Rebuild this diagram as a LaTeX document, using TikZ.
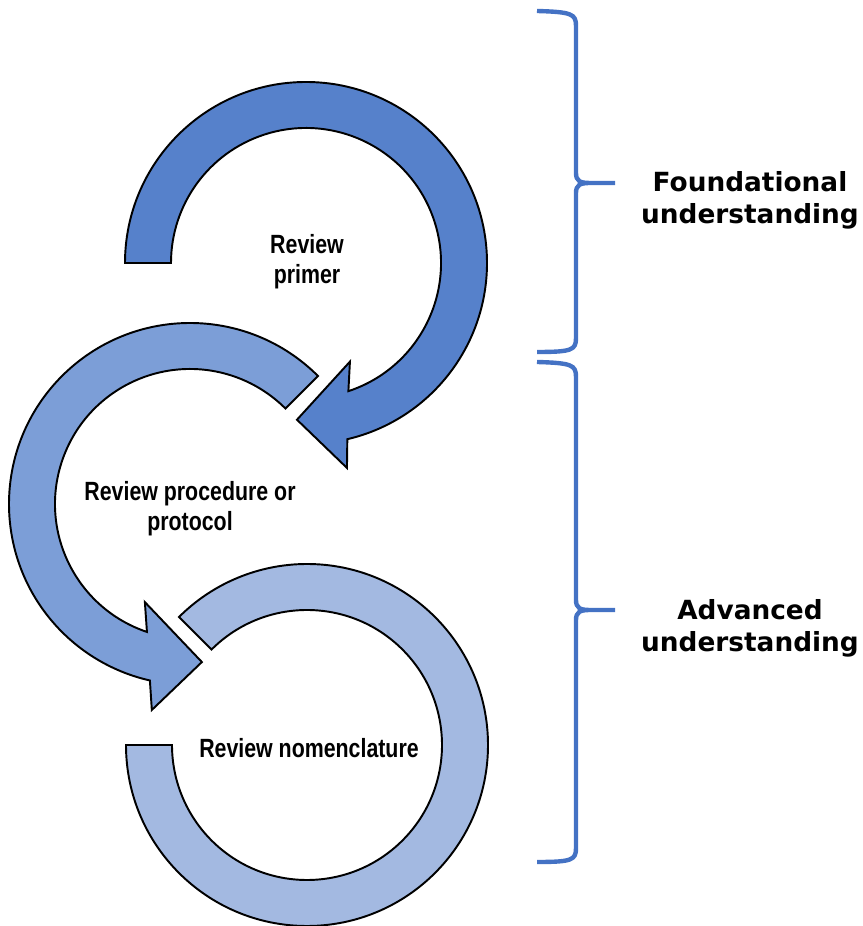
\documentclass[tikz,border=0pt]{standalone}
\usepackage{fontspec}
\usepackage{tikz}
\newfontfamily\stepfont[FakeStretch=0.81]{Liberation Sans}
\newfontfamily\levelfont{DejaVu Sans}
\definecolor{ringdark}{RGB}{86,129,203}
\definecolor{ringmid}{RGB}{124,158,215}
\definecolor{ringlight}{RGB}{163,185,225}
\definecolor{braceblue}{RGB}{68,114,196}

\begin{document}
\begin{tikzpicture}[x=0.02cm, y=0.02cm,
		ring/.style={draw=black, line width=1.1pt},
		stepname/.style={font=\stepfont\bfseries\fontsize{15}{17}\selectfont, align=center, inner sep=0pt},
		levelname/.style={font=\levelfont\bfseries\fontsize{15}{18.2}\selectfont, align=center, inner sep=0pt},
		curly/.style={draw=braceblue, line width=2.5pt}]
			\useasboundingbox (0,0) rectangle (862,926);
			\coordinate (c1) at (306,663);
			\coordinate (c2) at (190,422);
			\coordinate (c3) at (307,181);
			% bottom ring
			\draw[ring, fill=ringlight] ([shift={(180:181)}]c3) arc[start angle=180, end angle=495, radius=181]
				-- ([shift={(135:135)}]c3) arc[start angle=135, end angle=-180, radius=135] -- cycle;
			% middle arrow
			\draw[ring, fill=ringmid] ([shift={(45:181)}]c2) arc[start angle=45, end angle=257.2, radius=181]
				-- ([shift={(259.5:209.5)}]c2) -- ([shift={(274.3:158.5)}]c2) -- ([shift={(245.3:108)}]c2)
				-- ([shift={(251.4:135)}]c2) arc[start angle=251.4, end angle=45, radius=135] -- cycle;
			% top arrow
			\draw[ring, fill=ringdark] ([shift={(180:181)}]c1) arc[start angle=180, end angle=-76.8, radius=181]
				-- ([shift={(-78.7:209)}]c1) -- ([shift={(-93.3:157)}]c1) -- ([shift={(-66:108)}]c1)
				-- ([shift={(-71.7:135)}]c1) arc[start angle=-71.7, end angle=180, radius=135] -- cycle;
			\node[stepname] (primer) at (307,664) {Review\\primer};
			\node[stepname] (protocol) at (190,417) {Review procedure or\\protocol};
			\node[stepname] (nomenclature) at (309,178) {Review nomenclature};
			% braces
			\coordinate (tip1) at (615,743);
			\coordinate (tip2) at (615,316);
			\draw[curly] (537,915) .. controls (572,914) and (576,912) .. (576,900) -- (576,753)
				.. controls (576,745) and (580,743) .. (590,743) -- (tip1)
				(tip1) -- (590,743) .. controls (580,743) and (576,741) .. (576,733) -- (576,588)
				.. controls (576,576) and (572,574) .. (537,574);
			\draw[curly] (537,564) .. controls (572,563) and (576,561) .. (576,549) -- (576,326)
				.. controls (576,318) and (580,316) .. (590,316) -- (tip2)
				(tip2) -- (590,316) .. controls (580,316) and (576,314) .. (576,306) -- (576,78)
				.. controls (576,66) and (572,64) .. (537,64);
			\node[levelname] (found) at (750,726) {Foundational\\understanding};
			\node[levelname] (adv) at (750,298) {Advanced\\understanding};
		\end{tikzpicture}
\end{document}
